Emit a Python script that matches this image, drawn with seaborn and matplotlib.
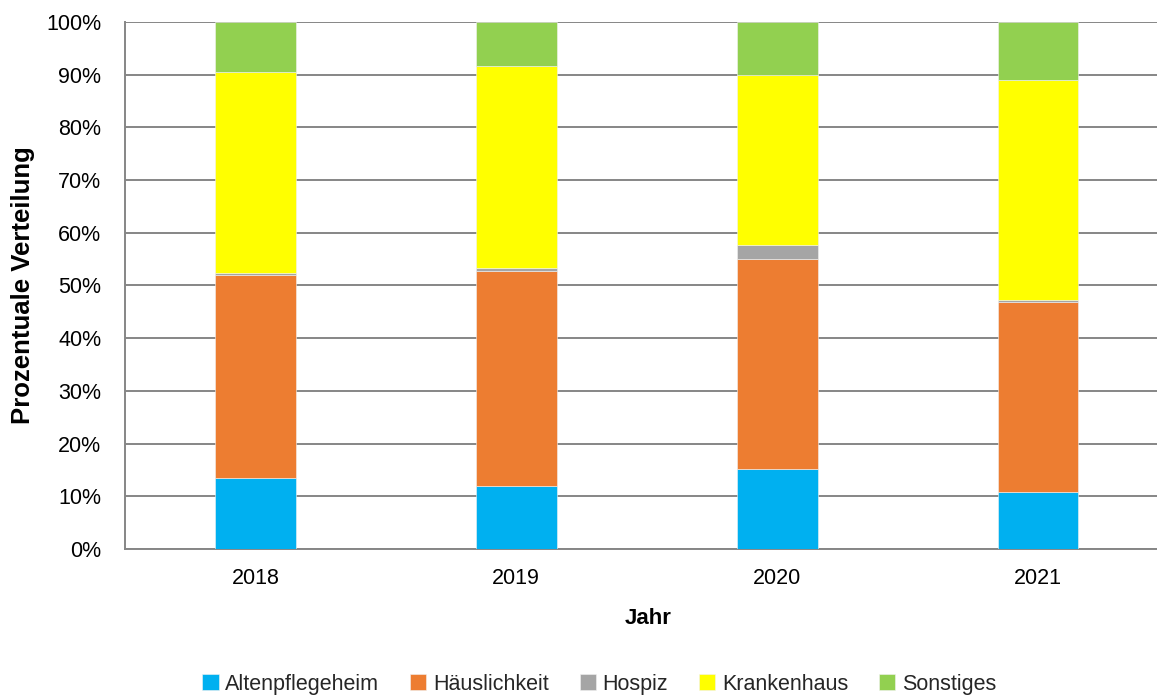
import matplotlib
matplotlib.use("Agg")
import matplotlib.pyplot as plt
import seaborn as sns
import numpy as np
import pandas as pd
from matplotlib.ticker import PercentFormatter

# Sterbeorte je Jahr, prozentuale Anteile
jahre = ["2018", "2019", "2020", "2021"]
kategorien = ["Altenpflegeheim", "Häuslichkeit", "Hospiz", "Krankenhaus", "Sonstiges"]
altenpflegeheim = [13.4, 12.0, 15.2, 10.9]
haeuslichkeit = [38.5, 40.7, 39.9, 35.9]
hospiz = [0.5, 0.6, 2.6, 0.5]
krankenhaus = [38.2, 38.4, 32.2, 41.7]
sonstiges = [9.4, 8.3, 10.1, 11.0]

farben = ["#00B0F0", "#ED7D31", "#A5A5A5", "#FFFF00", "#92D050"]

sns.set_theme(style="white")
plt.rcParams["font.family"] = ["Liberation Sans", "DejaVu Sans"]

werte = [altenpflegeheim, haeuslichkeit, hospiz, krankenhaus, sonstiges]
df = pd.DataFrame({k: v for k, v in zip(kategorien, werte)}, index=jahre)

fig = plt.figure(figsize=(11.57, 6.98), dpi=100)
ax = fig.add_axes([0.108, 0.2135, 0.892, 0.755])

unten = np.zeros(len(jahre))
for kat, farbe in zip(kategorien, farben):
    sns.barplot(x=jahre, y=df[kat].values, bottom=unten, color=farbe,
                saturation=1, width=0.31, edgecolor="#F2F2F2", linewidth=0.4,
                label=kat, ax=ax, zorder=3)
    unten = unten + df[kat].values

ax.set_xlim(-0.5, 3.456)
ax.set_ylim(0, 100)
ax.set_yticks(np.arange(0, 101, 10))
ax.yaxis.set_major_formatter(PercentFormatter(decimals=0))
ax.yaxis.grid(True, color="#868686", linewidth=1.4, zorder=0)
ax.xaxis.grid(False)
for s in ["top", "right"]:
    ax.spines[s].set_visible(False)
for s in ["left", "bottom"]:
    ax.spines[s].set_color("#868686")
    ax.spines[s].set_linewidth(1.4)
ax.tick_params(axis="y", length=0, pad=17, labelsize=15.5, colors="black")
ax.tick_params(axis="x", length=0, pad=14, labelsize=15.5, colors="black")

ax.set_ylabel("Prozentuale Verteilung", fontsize=18.5, fontweight="bold", color="black")
ax.set_xlabel("Jahr", fontsize=16, fontweight="bold", color="black")
ax.yaxis.set_label_coords(-0.087, 0.5)
ax.xaxis.set_label_coords(0.507, -0.112)

handles, labels = ax.get_legend_handles_labels()
if ax.legend_:
    ax.legend_.remove()
fig.legend(handles, labels, loc="center", bbox_to_anchor=(0.518, 0.02),
           ncol=5, frameon=False, fontsize=15.5, handlelength=0.75,
           handleheight=0.75, handletextpad=0.3, columnspacing=1.45)

fig.savefig("out.png", dpi=100)
